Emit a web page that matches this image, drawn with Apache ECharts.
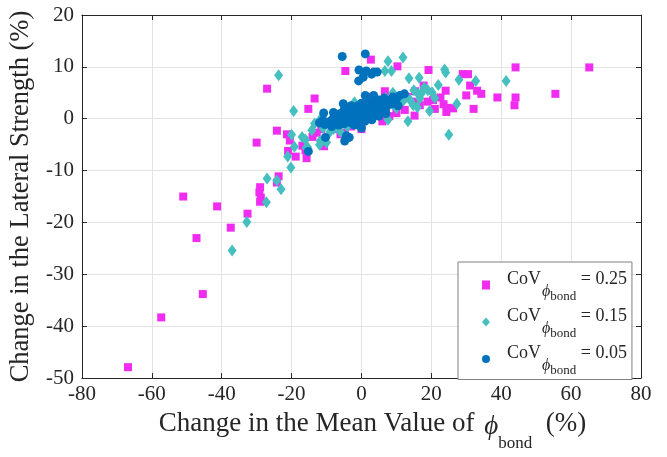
<!DOCTYPE html>
<html>
<head>
<meta charset="utf-8">
<script src="https://cdn.jsdelivr.net/npm/echarts@6/dist/echarts.min.js"></script>
<style>html,body{margin:0;padding:0;background:#fff}#c{width:667px;height:457px}</style>
</head>
<body>
<div id="c"></div>
<script>
// CoV = 0.25 (magenta squares)
const cov25 = [
  [-66.8,-47.9],[-57.3,-38.3],[-45.4,-33.8],[-47.2,-23.0],[-51.0,-15.0],[-41.3,-16.9],[-37.4,-21.0],[-32.6,-18.3],
  [-29.0,-13.2],[-29.2,-14.2],[-28.8,-15.2],[-29.0,-16.0],[-23.7,-11.1],[-24.2,-12.3],
  [-27.0,5.8],[-30.0,-4.6],[-24.2,-2.3],[-21.3,-3.0],[-20.5,-4.2],[-21.0,-6.2],[-18.8,-7.3],[-15.7,-7.6],
  [-16.9,-5.2],[-16.0,-6.1],[-10.7,-5.3],[-13.4,3.9],[-15.2,1.9],[-12.8,-2.7],
  [2.7,11.4],[-4.6,9.2],[10.3,10.1],[19.2,9.4],[44.1,9.9],[65.2,9.9],[29.0,8.6],[30.5,8.6],[17.8,6.4],[31.1,6.4],
  [24.1,5.4],[30.0,4.5],[33.1,5.4],[34.3,4.8],[38.9,4.1],[44.1,4.1],[43.8,2.6],[55.5,4.8],
  [18.9,3.3],[20.5,3.6],[22.6,4.1],[16.7,2.6],[21.0,1.9],[23.5,2.8],[24.8,2.1],[24.3,1.3],[26.2,2.0],[32.1,1.9],
  [6.7,5.3],[13.0,4.2],[15.7,3.3],[15.2,0.6],[12.4,1.7],[10.0,1.1],[-4.8,-2.7],[0.5,2.9],[2.4,4.2],[15.3,5.3],[9.5,3.9],
  [-8.0,-2.0],[-6.0,-3.0],[-3.0,-1.5],[-1.0,-1.0],[1.0,0.0],[3.0,1.0],[5.0,1.5],[7.0,2.0],[8.0,0.5],[11.0,3.0],
  [-2.0,1.5],[4.0,3.0],[-7.0,-1.0],[0.0,-2.0],[6.0,-0.5],[-11.5,-2.0],[-14.0,-3.5]
];
// CoV = 0.15 (teal diamonds)
const cov15 = [
  [-23.7,8.4],[-19.4,1.5],[-20.0,-3.1],[-19.2,-5.4],[-21.1,-7.3],[-20.2,-9.4],[-27.0,-11.5],[-24.2,-11.9],
  [-23.0,-13.6],[-27.2,-16.1],[-32.8,-19.9],[-37.0,-25.4],
  [7.6,11.1],[11.9,11.8],[6.7,9.2],[8.6,9.2],[13.6,7.8],[16.5,7.9],[23.8,9.5],[24.1,8.9],[27.9,7.5],[32.7,7.3],
  [41.4,7.3],[20.2,5.1],[17.1,4.8],[16.2,4.8],[16.7,3.9],[27.3,2.9],[19.5,1.5],[25.0,-3.1],[13.3,-0.5],[7.6,-0.2],[14.8,2.6],
  [-11.9,-0.2],[-11.0,-1.8],[-6.7,-1.8],[-10.0,-4.6],[-13.4,-0.9],[-14.2,-2.2],[-12.0,-5.0],[-15.4,-5.5],[-11.8,-4.3],[-15.8,-5.6],
  [-9.0,-1.0],[-8.0,-2.0],[-7.0,-0.5],[-6.0,-2.5],[-5.0,0.5],[-4.0,-1.5],[-3.0,1.0],[-2.0,-0.5],[-1.0,1.5],[0.0,0.5],
  [1.0,2.0],[2.0,1.0],[3.0,3.0],[4.0,2.0],[5.0,3.5],[6.0,2.5],[7.0,4.0],[8.0,3.0],[9.0,5.0],[10.0,4.0],[11.0,3.0],
  [12.0,3.5],[13.0,4.2],[14.0,3.5],[15.0,5.5],[18.0,6.0],[19.0,5.5],[21.0,4.0],[22.0,6.5],[16.0,2.2],[10.0,2.0],
  [-17.0,-3.5],[-16.0,-4.0],[-9.0,-2.5],[-2.0,3.2]
];
// CoV = 0.05 (blue circles)
const cov05 = [
  [-5.5,12.0],[1.1,12.5],[-0.7,9.4],[1.4,9.2],[3.5,9.0],[4.5,9.0],[2.9,8.6],[0.5,8.0],[-0.8,7.3],[12.3,4.8],[1.1,4.5],
  [-10.8,1.1],[-15.2,-6.3],[-10.3,-3.6],[-4.8,-4.3],[-3.5,-3.6],[-4.3,-3.3],[0.0,-1.8],[-10.5,-1.1],[-5.2,2.9],[-4.8,2.0],
  [-12,-0.8],[-11,-0.3],[-10,-1.0],[-9,-0.5],[-8.5,-1.5],[-8,0.2],[-7.5,-0.8],[-7,0.5],[-6.5,-1.2],[-6,1.0],[-5.5,0],
  [-5,1.5],[-5,-1.0],[-4.5,0.5],[-4,2.0],[-4,-0.3],[-3.5,1.0],[-3,2.5],[-3,-0.8],[-2.5,0.3],[-2,1.8],[-2,-1.2],
  [-1.5,0.8],[-1,2.5],[-1,-0.2],[-0.5,1.3],[0,3.0],[0,0.2],[0.5,1.8],[1,-0.5],[1,2.5],[1.5,1.0],[2,3.2],[2,0.3],
  [2.5,1.8],[3,2.6],[3,-0.2],[3.5,3.8],[4,1.2],[4.5,2.5],[5,3.5],[5,0.5],[5.5,2.0],[6,3.0],[6.5,4.0],[7,2.2],[7,1.0],
  [8,3.5],[8.5,2.8],[9,4.2],[10,3.8],[10.5,2.5],[11,4.5],[3.5,4.5],[-8,1.2]
];
const seriesNames = ['0.25', '0.15', '0.05'];
const xRange = [-80, 80, 20];
const yRange = [-50, 20, 10];

const SERIF = "'Liberation Serif','Times New Roman',serif";
const AX = '#262626';
const chart = echarts.init(document.getElementById('c'), null, {renderer: 'canvas'});

function xAx(pos, main) {
  return {
    type: 'value', position: pos, min: xRange[0], max: xRange[1], interval: xRange[2],
    axisLine: {show: true, onZero: false, lineStyle: {color: AX, width: 1}},
    axisTick: {show: true, inside: true, length: 5, lineStyle: {color: AX}},
    axisLabel: {show: main, fontSize: 21, fontFamily: SERIF, color: AX, margin: 6},
    splitLine: {show: main, lineStyle: {color: '#e3e3e3', width: 1}},
    name: main ? '{a|Change in the Mean Value of }{p|\u03D5}{b|bond}{a|  (%)}' : '',
    nameLocation: 'middle', nameGap: 21,
    nameTextStyle: {
      fontFamily: SERIF, color: AX, padding: [0, 0, 0, 22],
      rich: {
        a: {fontSize: 27, fontFamily: SERIF, color: AX, lineHeight: 30},
        p: {fontSize: 27, fontFamily: SERIF, fontStyle: 'italic', color: AX, lineHeight: 30, padding: [3, 0, -3, 3]},
        b: {fontSize: 17, fontFamily: SERIF, color: AX, lineHeight: 20, padding: [20, 0, -20, 0]}
      }
    }
  };
}
function yAx(pos, main) {
  return {
    type: 'value', position: pos, min: yRange[0], max: yRange[1], interval: yRange[2],
    axisLine: {show: true, onZero: false, lineStyle: {color: AX, width: 1}},
    axisTick: {show: true, inside: true, length: 5, lineStyle: {color: AX}},
    axisLabel: {show: main, fontSize: 21, fontFamily: SERIF, color: AX, margin: 8},
    splitLine: {show: main, lineStyle: {color: '#e3e3e3', width: 1}},
    name: main ? 'Change in the Lateral Strength (%)' : '',
    nameLocation: 'middle', nameGap: 41,
    nameTextStyle: {fontSize: 26.5, fontFamily: SERIF, color: AX}
  };
}

const legendRich = {
  sp: {width: 12},
  n: {fontSize: 18, fontFamily: SERIF, color: AX, lineHeight: 20, padding: [-6, 0, 6, 0]},
  p: {fontSize: 16, fontFamily: SERIF, fontStyle: 'italic', color: AX, lineHeight: 20, padding: [7, 0, -7, 1]},
  b: {fontSize: 13, fontFamily: SERIF, color: AX, lineHeight: 20, padding: [12, 0, -12, 0]}
};

const option = {
  animation: false,
  backgroundColor: '#fff',
  grid: {left: 81, right: 26, top: 15, bottom: 70, containLabel: false},
  xAxis: [xAx('bottom', true), xAx('top', false)],
  yAxis: [yAx('left', true), yAx('right', false)],
  legend: {
    orient: 'vertical', left: 458, top: 262,
    backgroundColor: '#fff', borderColor: '#808080', borderWidth: 1, borderRadius: 0,
    padding: [8, 5, 2, 24], itemGap: 3.5, itemWidth: 8, itemHeight: 9,
    data: seriesNames,
    formatter: function (name) {
      return '{sp|}{n|CoV}{p|\u03D5}{b|bond}{n| = ' + name + '}';
    },
    textStyle: {rich: legendRich}
  },
  series: [
    {name: seriesNames[0], type: 'scatter', data: cov25, symbol: 'rect', symbolSize: 8,
     itemStyle: {color: '#F02CF0', opacity: 1}, z: 2},
    {name: seriesNames[1], type: 'scatter', data: cov15, symbol: 'diamond', symbolSize: [9, 12],
     itemStyle: {color: '#45BFBF', opacity: 1}, z: 3},
    {name: seriesNames[2], type: 'scatter', data: cov05, symbol: 'circle', symbolSize: 9,
     itemStyle: {color: '#0072BD', opacity: 1}, z: 4}
  ]
};
chart.setOption(option);
</script>
</body>
</html>
